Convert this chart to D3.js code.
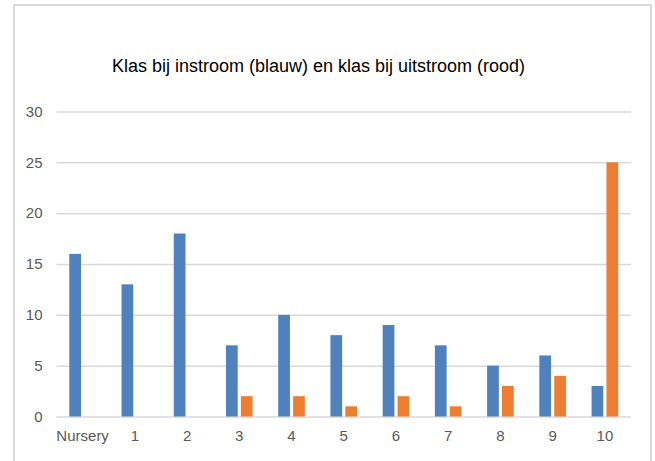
<!DOCTYPE html>
<html>
<head>
<meta charset="utf-8">
<script src="https://cdn.jsdelivr.net/npm/d3@7"></script>
<style>
  body { margin: 0; background: #fff; }
  text { font-family: "Liberation Sans Narrow", "Liberation Sans", sans-serif; }
</style>
</head>
<body>
<div id="chartDiv"></div>
<script>
let w = 655
let h = 461

let CATEGORIES = ["Nursery", "1", "2", "3", "4", "5", "6", "7", "8", "9", "10"]
let SERIES = ["instroom", "uitstroom"]
let INSTROOM = [16, 13, 18, 7, 10, 8, 9, 7, 5, 6, 3]
let UITSTROOM = [0, 0, 0, 2, 2, 1, 2, 1, 3, 4, 25]
let Y_TICKS = [0, 5, 10, 15, 20, 25, 30]
let COLORS = ["#4f81bd", "#ed7d31"]
let TITLE = "Klas bij instroom (blauw) en klas bij uitstroom (rood)"

let data = CATEGORIES.map((c, i) => ({ cat: c, values: [INSTROOM[i], UITSTROOM[i]] }))

let svg = d3.select("#chartDiv")
  .append("svg")
  .attr("width", w)
  .attr("height", h)

// chart frame (bottom runs off the picture)
svg.append("rect")
  .attr("x", 14).attr("y", 5)
  .attr("width", 637).attr("height", 480)
  .attr("fill", "none")
  .attr("stroke", "#d9d9d9")
  .attr("stroke-width", 2)

let x0 = d3.scaleBand()
  .domain(CATEGORIES)
  .range([56.5, 631])
  .paddingInner(0.49)
  .paddingOuter(0.245)

let x1 = d3.scaleBand()
  .domain(SERIES)
  .range([0, x0.bandwidth()])
  .paddingInner(0.2126)

let y = d3.scaleLinear()
  .domain([0, 30])
  .range([416.5, 111.5])

// gridlines + y labels
let yAxis = d3.axisLeft(y)
  .tickValues(Y_TICKS)
  .tickSize(-(631 - 56.5))
  .tickPadding(14)

let gy = svg.append("g")
  .attr("transform", "translate(56.5,0)")
  .call(yAxis)
gy.select(".domain").remove()
gy.selectAll(".tick line").attr("stroke", "#d9d9d9").attr("stroke-width", 1.5)
gy.selectAll(".tick text")
  .attr("fill", "#595959")
  .style("font-size", "15px")

// bars
let groups = svg.selectAll(".grp")
  .data(data)
  .enter()
  .append("g")
  .attr("class", "grp")
  .attr("transform", d => "translate(" + x0(d.cat) + ",0)")

groups.selectAll("rect")
  .data(d => d.values.map((v, i) => ({ s: SERIES[i], v: v, i: i })))
  .enter()
  .append("rect")
  .attr("x", d => x1(d.s))
  .attr("y", d => y(d.v))
  .attr("width", x1.bandwidth())
  .attr("height", d => y(0) - y(d.v))
  .attr("fill", d => COLORS[d.i])

// x axis labels
let xAxis = d3.axisBottom(x0).tickSize(0).tickPadding(14)
let gx = svg.append("g")
  .attr("transform", "translate(0," + y(0) + ")")
  .call(xAxis)
gx.select(".domain").remove()
gx.selectAll(".tick text")
  .attr("fill", "#595959")
  .style("font-size", "15px")

// title
svg.append("text")
  .attr("x", 318.5)
  .attr("y", 72)
  .attr("text-anchor", "middle")
  .attr("fill", "#000")
  .style("font-size", "18px")
  .text(TITLE)
</script>
</body>
</html>
